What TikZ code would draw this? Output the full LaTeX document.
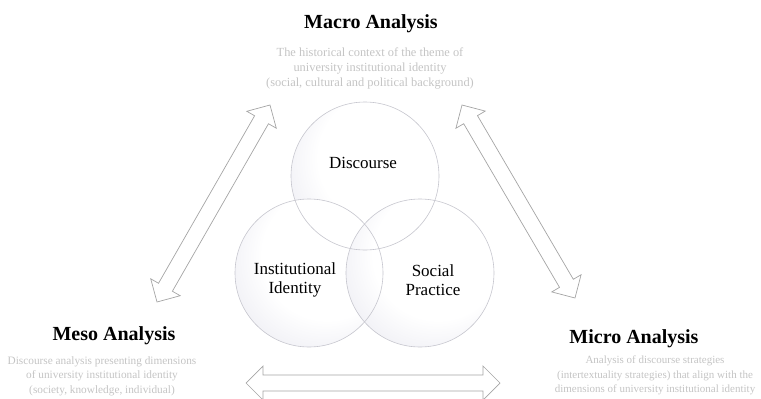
\documentclass[tikz,border=0pt]{standalone}
\usepackage{fontspec}
\setmainfont{Liberation Serif}
\usetikzlibrary{calc}

\definecolor{rimgray}{RGB}{198,198,206}
\definecolor{glasstint}{RGB}{204,204,222}
\definecolor{notegray}{RGB}{196,196,196}
\definecolor{arrowgray}{RGB}{165,165,165}

\pgfdeclareradialshading{glass}{\pgfpoint{11bp}{11bp}}{%
	color(0bp)=(white); color(22bp)=(white); color(38bp)=(glasstint!45); color(50bp)=(glasstint)}

% hollow double-headed arrow between two named points
\newcommand{\bidir}[2]{%
	\path ($(#1)!17pt!(#2)$) coordinate (h1) ($(#2)!17pt!(#1)$) coordinate (h2);
	\draw [link] (#1) -- ($(h1)!17pt!90:(#2)$) -- ($(h1)!8pt!90:(#2)$)
		-- ($(h2)!8pt!-90:(#1)$) -- ($(h2)!17pt!-90:(#1)$) -- (#2)
		-- ($(h2)!17pt!90:(#1)$) -- ($(h2)!8pt!90:(#1)$)
		-- ($(h1)!8pt!-90:(#2)$) -- ($(h1)!17pt!-90:(#2)$) -- cycle;}

\begin{document}
\begin{tikzpicture}[x = 1pt, y = -1pt,
		level/.style = {font = \fontsize{20}{24}\selectfont\bfseries, anchor = base, inner sep = 0pt},
		note/.style = {text = notegray, align = center, anchor = north, inner sep = 0pt},
		ring/.style = {circle, minimum size = 148pt, inner sep = 0pt},
		rim/.style = {draw = rimgray, line width = 0.6pt},
		tag/.style = {font = \fontsize{17}{19}\selectfont, align = center, inner sep = 0pt},
		link/.style = {draw = arrowgray, line width = 0.7pt, fill = white, line join = miter}]

	\useasboundingbox (0,0) rectangle (761,399);

	% the three levels
	\node [level] (macro) at (371,28) {Macro Analysis};
	\node [note, font = \fontsize{12.4}{14.8}\selectfont] (macronote) at (370,48) {The historical context of the theme of\\ university institutional identity\\ (social, cultural and political background)};

	\node [level] (meso) at (114,340) {Meso Analysis};
	\node [note, font = \fontsize{11.3}{14.5}\selectfont] (mesonote) at (102,356) {Discourse analysis presenting dimensions\\ of university institutional identity\\ (society, knowledge, individual)};

	\node [level] (micro) at (634,343) {Micro Analysis};
	\node [note, font = \fontsize{11}{14.5}\selectfont] (micronote) at (655,356) {Analysis of discourse strategies\\ (intertextuality strategies) that align with the\\ dimensions of university institutional identity};

	% circles: shaded bodies first, then all rims on top
	\node [ring] (disc) at (365,176) {};
	\node [ring] (ident) at (309,273) {};
	\node [ring] (prac) at (420,273) {};

	\foreach \c in {disc, ident, prac}
		\shade [shading = glass] (\c) circle (74pt);
	\foreach \c in {disc, ident, prac}
		\draw [rim] (\c) circle (74pt);

	\node [tag] (disctext) at ($(disc)+(-2,-13)$) {Discourse};
	\node [tag] (identtext) at ($(ident)+(-14,7)$) {Institutional\\ Identity};
	\node [tag] (practext) at ($(prac)+(13,7)$) {Social\\ Practice};

	% arrows between the levels
	\coordinate (mesoup) at (157,302);
	\coordinate (macroleft) at (270,105);
	\coordinate (macroright) at (462,105);
	\coordinate (microup) at (575,298);
	\coordinate (mesoright) at (246,383);
	\coordinate (microleft) at (500,383);

	\bidir{mesoup}{macroleft}
	\bidir{macroright}{microup}
	\bidir{mesoright}{microleft}
\end{tikzpicture}
\end{document}
